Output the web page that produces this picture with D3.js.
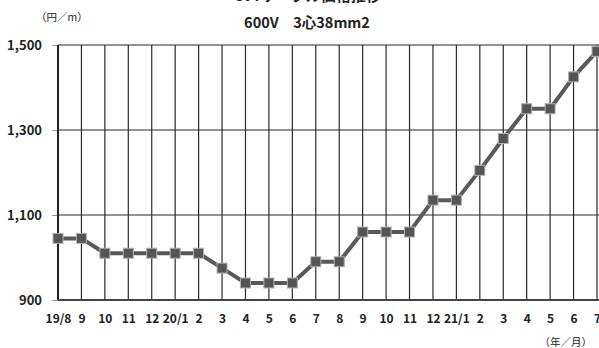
<!DOCTYPE html>
<html>
<head>
<meta charset="utf-8">
<script src="https://cdn.jsdelivr.net/npm/d3@7"></script>
<style>
  html, body { margin: 0; padding: 0; background: #fff; }
  svg { display: block; }
  text { font-family: "Noto Sans CJK JP", "Open Sans", sans-serif; fill: #222; }
</style>
</head>
<body>
<svg id="chart" width="599" height="348"></svg>
<script>
// Monthly price of the cable (yen per metre), Aug 2019 – Jul 2021
const months = ["19/8", "9", "10", "11", "12", "20/1", "2", "3", "4", "5", "6", "7",
                "8", "9", "10", "11", "12", "21/1", "2", "3", "4", "5", "6", "7"];
const prices = [1045, 1045, 1010, 1010, 1010, 1010, 1010, 975, 940, 940, 940, 990,
                990, 1060, 1060, 1060, 1135, 1135, 1205, 1280, 1350, 1350, 1425, 1485];
const yTicks = [900, 1100, 1300, 1500];

const svg = d3.select("#chart");
const plotLeft = 58, plotRight = 597, plotTop = 45, plotBottom = 300;

const keys = months.map((m, i) => i);
const x = d3.scalePoint().domain(keys).range([plotLeft, plotRight]);
const y = d3.scaleLinear().domain([900, 1500]).range([plotBottom, plotTop]);

// titles
svg.append("text").attr("x", 307).attr("y", 1)
  .attr("text-anchor", "middle").attr("font-size", 15).attr("font-weight", 700)
  .text("CVTケーブル価格推移");
svg.append("text").attr("x", 307).attr("y", 28)
  .attr("text-anchor", "middle").attr("font-size", 14.5).attr("font-weight", 700)
  .text("600V\u30003心38mm2");
svg.append("text").attr("x", 36).attr("y", 21)
  .attr("font-size", 10.5).text("（円／m）");
svg.append("text").attr("x", 592).attr("y", 346)
  .attr("text-anchor", "end").attr("font-size", 10.5).text("（年／月）");

// vertical grid
svg.append("g").selectAll("line").data(keys.slice(1)).join("line")
  .attr("x1", d => x(d)).attr("x2", d => x(d))
  .attr("y1", plotTop).attr("y2", plotBottom)
  .attr("stroke", "#2a2a2a").attr("stroke-width", 1.2);

// horizontal grid
svg.append("g").selectAll("line").data(yTicks.slice(1)).join("line")
  .attr("x1", plotLeft).attr("x2", 599)
  .attr("y1", d => y(d)).attr("y2", d => y(d))
  .attr("stroke", "#2a2a2a").attr("stroke-width", 1.2);

// y axis
const yAxis = d3.axisLeft(y).tickValues(yTicks).tickSize(6).tickPadding(10)
  .tickFormat(d3.format(","));
const gy = svg.append("g").attr("transform", `translate(${plotLeft},0)`).call(yAxis);
gy.select(".domain").remove();
gy.selectAll(".tick line").attr("stroke", "#999");
gy.selectAll(".tick text").attr("font-size", 13).attr("font-weight", 700)
  .attr("font-family", "'Open Sans', sans-serif").attr("fill", "#222");
svg.append("line").attr("x1", plotLeft).attr("x2", plotLeft).attr("y1", plotTop).attr("y2", plotBottom)
  .attr("stroke", "#222").attr("stroke-width", 2);

// x axis
const xAxis = d3.axisBottom(x).tickSize(0).tickPadding(14).tickFormat(i => months[i]);
const gx = svg.append("g").attr("transform", `translate(0,${plotBottom})`).call(xAxis);
gx.select(".domain").remove();
gx.selectAll(".tick text").attr("font-size", 12).attr("font-weight", 700)
  .attr("font-family", "'Open Sans', sans-serif").attr("fill", "#222");
svg.append("line").attr("x1", plotLeft).attr("x2", 599).attr("y1", plotBottom).attr("y2", plotBottom)
  .attr("stroke", "#444").attr("stroke-width", 2.2);

// price line
svg.append("path").datum(prices)
  .attr("fill", "none").attr("stroke", "#595959").attr("stroke-width", 4)
  .attr("stroke-linejoin", "round")
  .attr("d", d3.line().x((d, i) => x(i)).y(d => y(d)));

// square markers
const s = 10;
svg.append("g").selectAll("rect").data(prices).join("rect")
  .attr("x", (d, i) => x(i) - s / 2).attr("y", d => y(d) - s / 2)
  .attr("width", s).attr("height", s)
  .attr("fill", "#555").attr("stroke", "#b0b0b0").attr("stroke-width", 1);
</script>
</body>
</html>
